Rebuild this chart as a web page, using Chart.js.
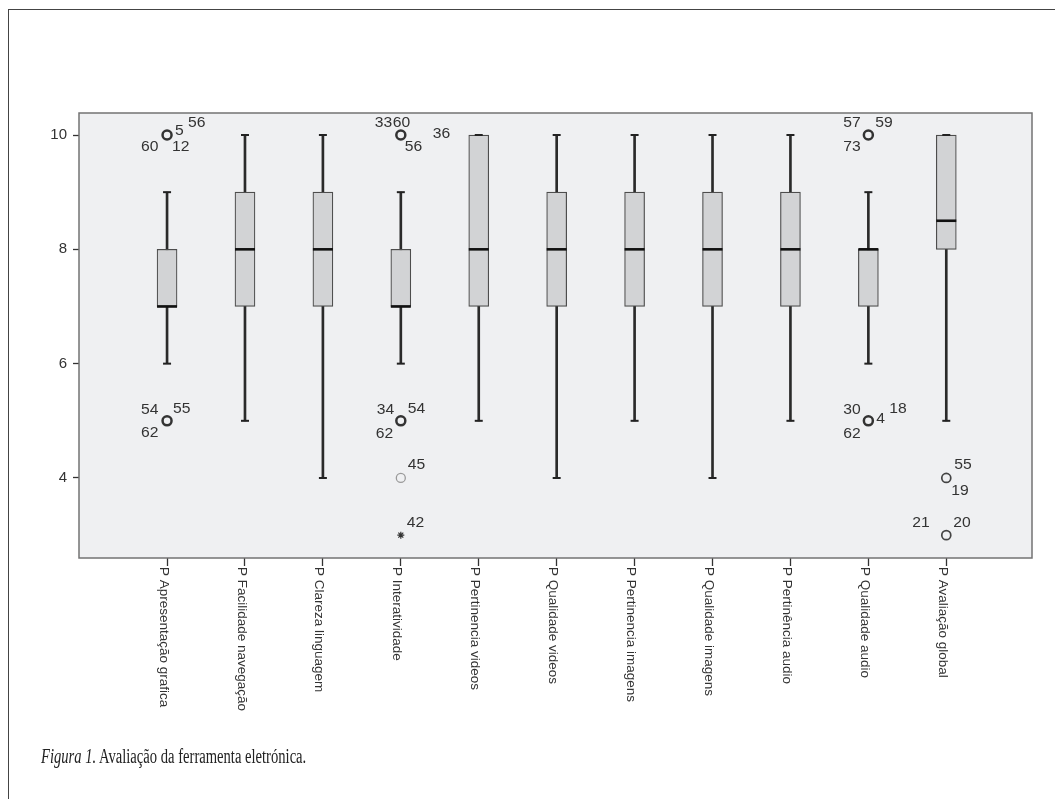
<!DOCTYPE html>
<html>
<head>
<meta charset="utf-8">
<title>Avaliação da ferramenta eletrónica</title>
<script src="https://cdn.jsdelivr.net/npm/chart.js@4.4.1/dist/chart.umd.min.js"></script>
<style>
  html, body { margin: 0; padding: 0; background: #fff; }
  #wrap { position: relative; width: 1055px; height: 799px; overflow: hidden; }
  #frame { position: absolute; left: 8px; top: 9px; width: 1100px; height: 850px;
           border-left: 1.5px solid #444; border-top: 1.5px solid #444; }
  #chart { position: absolute; left: 0; top: 0; }
  #caption { position: absolute; left: 41px; top: 746px; font: 20px/20px 'Liberation Serif', serif;
             color: #222; white-space: nowrap; transform: scaleX(0.73); transform-origin: 0 0; }
</style>
</head>
<body>
<div id="wrap">
  <div id="frame"></div>
  <canvas id="chart" width="1055" height="799"></canvas>
  <div id="caption"><i>Figura 1.</i> Avaliação da ferramenta eletrónica.</div>
</div>
<script>
// box plot values
const categories = [
    'P Apresentação grafica',
    'P Facilidade navegação',
    'P Clareza linguagem',
    'P Interatividade',
    'P Pertinencia videos',
    'P Qualidade videos',
    'P Pertinencia imagens',
    'P Qualidade imagens',
    'P Pertinência audio',
    'P Qualidade audio',
    'P Avaliação global'
];
const whiskerLow  = [6, 5, 4, 6, 5, 4, 5, 4, 5, 6, 5];
const q1          = [7, 7, 7, 7, 7, 7, 7, 7, 7, 7, 8];
const medians     = [7, 8, 8, 7, 8, 8, 8, 8, 8, 8, 8.5];
const q3          = [8, 9, 9, 8, 10, 9, 9, 9, 9, 8, 10];
const whiskerHigh = [9, 10, 10, 9, 10, 10, 10, 10, 10, 9, 10];

// outliers (o) and extremes (*), with the case numbers printed next to them
const outlierCategory = [0, 0, 3, 3, 3, 3, 9, 9, 10, 10];
const outlierValue    = [10, 5, 10, 5, 4, 3, 10, 5, 4, 3];
const outlierExtreme  = [false, false, false, false, false, true, false, false, false, false];
const outlierCases = [
    ['60', '5', '56', '12'],
    ['54', '55', '62'],
    ['33', '60', '36', '56'],
    ['34', '54', '62'],
    ['45'],
    ['42'],
    ['57', '59', '73'],
    ['30', '4', '18', '62'],
    ['55', '19'],
    ['21', '20']
];

const yTicks = [4, 6, 8, 10];

// where each case number sits relative to its marker (px)
const caseLabelOffsets = [
    [[-26, 12], [8, -4], [21, -12], [5, 12]],
    [[-26, -11], [6, -12], [-26, 12]],
    [[-26, -12], [-8, -12], [32, -1], [4, 12]],
    [[-24, -11], [7, -12], [-25, 13]],
    [[7, -13]],
    [[6, -12]],
    [[-25, -12], [7, -12], [-25, 12]],
    [[-25, -11], [8, -2], [21, -12], [-25, 13]],
    [[8, -13], [5, 13]],
    [[-34, -12], [7, -12]]
];
const outlierLineWidth = [2.5, 2.5, 2.5, 2.5, 1.3, 1.2, 2.5, 2.5, 1.7, 1.7];
const outlierColor = ['#333', '#333', '#333', '#333', '#9a9a9a', '#333', '#333', '#333', '#444', '#444'];

const idx = categories.map((c, i) => i);

// plot background and border
const plotFrame = {
    id: 'plotFrame',
    beforeDraw(chart) {
        const a = chart.chartArea;
        const ctx = chart.ctx;
        ctx.save();
        ctx.fillStyle = '#eff0f2';
        ctx.fillRect(a.left, a.top, a.right - a.left, a.bottom - a.top);
        ctx.restore();
    },
    afterDatasetsDraw(chart) {
        const a = chart.chartArea;
        const ctx = chart.ctx;
        ctx.save();
        ctx.strokeStyle = '#737373';
        ctx.lineWidth = 1.5;
        ctx.strokeRect(a.left, a.top, a.right - a.left, a.bottom - a.top);
        ctx.restore();
    }
};

// case numbers next to outliers
const caseLabels = {
    id: 'caseLabels',
    afterDatasetsDraw(chart) {
        const ctx = chart.ctx;
        const xs = chart.scales.x;
        const ys = chart.scales.y;
        ctx.save();
        ctx.font = "14px 'Liberation Sans', Arial, sans-serif";
        ctx.fillStyle = '#333';
        ctx.textAlign = 'left';
        ctx.textBaseline = 'middle';
        outlierCases.forEach((cases, k) => {
            const px = xs.getPixelForValue(outlierCategory[k]);
            const py = ys.getPixelForValue(outlierValue[k]);
            cases.forEach((txt, j) => {
                const off = caseLabelOffsets[k][j];
                ctx.save();
                ctx.translate(px + off[0], py + off[1]);
                ctx.scale(1.12, 1);
                ctx.fillText(txt, 0, 0);
                ctx.restore();
            });
        });
        ctx.restore();
    }
};

// category names, rotated to read top to bottom like the SPSS output
const categoryLabels = {
    id: 'categoryLabels',
    afterDraw(chart) {
        const ctx = chart.ctx;
        const xs = chart.scales.x;
        const bottom = chart.chartArea.bottom;
        ctx.save();
        ctx.font = "13.5px 'Liberation Sans', Arial, sans-serif";
        ctx.fillStyle = '#333';
        ctx.textAlign = 'left';
        ctx.textBaseline = 'top';
        categories.forEach((name, i) => {
            ctx.save();
            ctx.translate(xs.getPixelForValue(i) + 3, bottom + 9);
            ctx.rotate(Math.PI / 2);
            ctx.fillText(name, 0, 0);
            ctx.restore();
        });
        ctx.restore();
    }
};

const ctx = document.getElementById('chart').getContext('2d');
const boxChart = new Chart(ctx, {
    type: 'bar',
    data: {
        datasets: [
            {
                type: 'bar',
                label: 'whiskers',
                data: idx.map(i => ({ x: i, y: [whiskerLow[i], whiskerHigh[i]] })),
                backgroundColor: '#2a2a2a',
                borderWidth: 0,
                barThickness: 2,
                grouped: false,
                order: 5
            },
            {
                type: 'bar',
                label: 'box',
                data: idx.map(i => ({ x: i, y: [q1[i], q3[i]] })),
                backgroundColor: '#d2d3d5',
                borderColor: '#4d4d4d',
                borderWidth: 1.2,
                borderSkipped: false,
                barThickness: 20,
                grouped: false,
                order: 4
            },
            {
                type: 'scatter',
                label: 'caps',
                data: idx.map(i => ({ x: i, y: whiskerLow[i] })).concat(idx.map(i => ({ x: i, y: whiskerHigh[i] }))),
                pointStyle: 'line',
                pointRadius: 4,
                pointBorderWidth: 2,
                pointBorderColor: '#222',
                order: 3
            },
            {
                type: 'scatter',
                label: 'median',
                data: idx.map(i => ({ x: i, y: medians[i] })),
                pointStyle: 'line',
                pointRadius: 10,
                pointBorderWidth: 2.6,
                pointBorderColor: '#111',
                order: 2
            },
            {
                type: 'scatter',
                label: 'outliers',
                data: outlierCategory.map((c, k) => ({ x: c, y: outlierValue[k] })),
                pointStyle: outlierExtreme.map(e => e ? 'star' : 'circle'),
                pointRadius: outlierExtreme.map(e => e ? 3.5 : 4.5),
                pointBorderWidth: outlierLineWidth,
                pointBorderColor: outlierColor,
                pointBackgroundColor: 'rgba(0,0,0,0)',
                order: 1
            }
        ]
    },
    options: {
        responsive: false,
        animation: false,
        events: [],
        layout: { padding: { top: 113, right: 23, bottom: 0, left: 0 } },
        plugins: {
            legend: { display: false },
            tooltip: { enabled: false }
        },
        scales: {
            x: {
                type: 'linear',
                min: -1.13,
                max: 11.1,
                offset: false,
                afterBuildTicks: scale => { scale.ticks = idx.map(i => ({ value: i })); },
                afterFit: scale => { scale.height = 241; },
                ticks: { display: false },
                border: { display: false },
                grid: { offset: false, drawOnChartArea: false, drawTicks: true, tickLength: 8, color: '#333', tickWidth: 1.3 }
            },
            y: {
                min: 2.6,
                max: 10.385,
                afterBuildTicks: scale => { scale.ticks = yTicks.map(v => ({ value: v })); },
                afterFit: scale => { scale.width = 79; },
                ticks: {
                    padding: 6,
                    color: '#333',
                    font: { family: "'Liberation Sans', Arial, sans-serif", size: 15 }
                },
                border: { display: false },
                grid: { drawOnChartArea: false, drawTicks: true, tickLength: 6, color: '#333', tickWidth: 1.3 }
            }
        }
    },
    plugins: [plotFrame, caseLabels, categoryLabels]
});
</script>
</body>
</html>
